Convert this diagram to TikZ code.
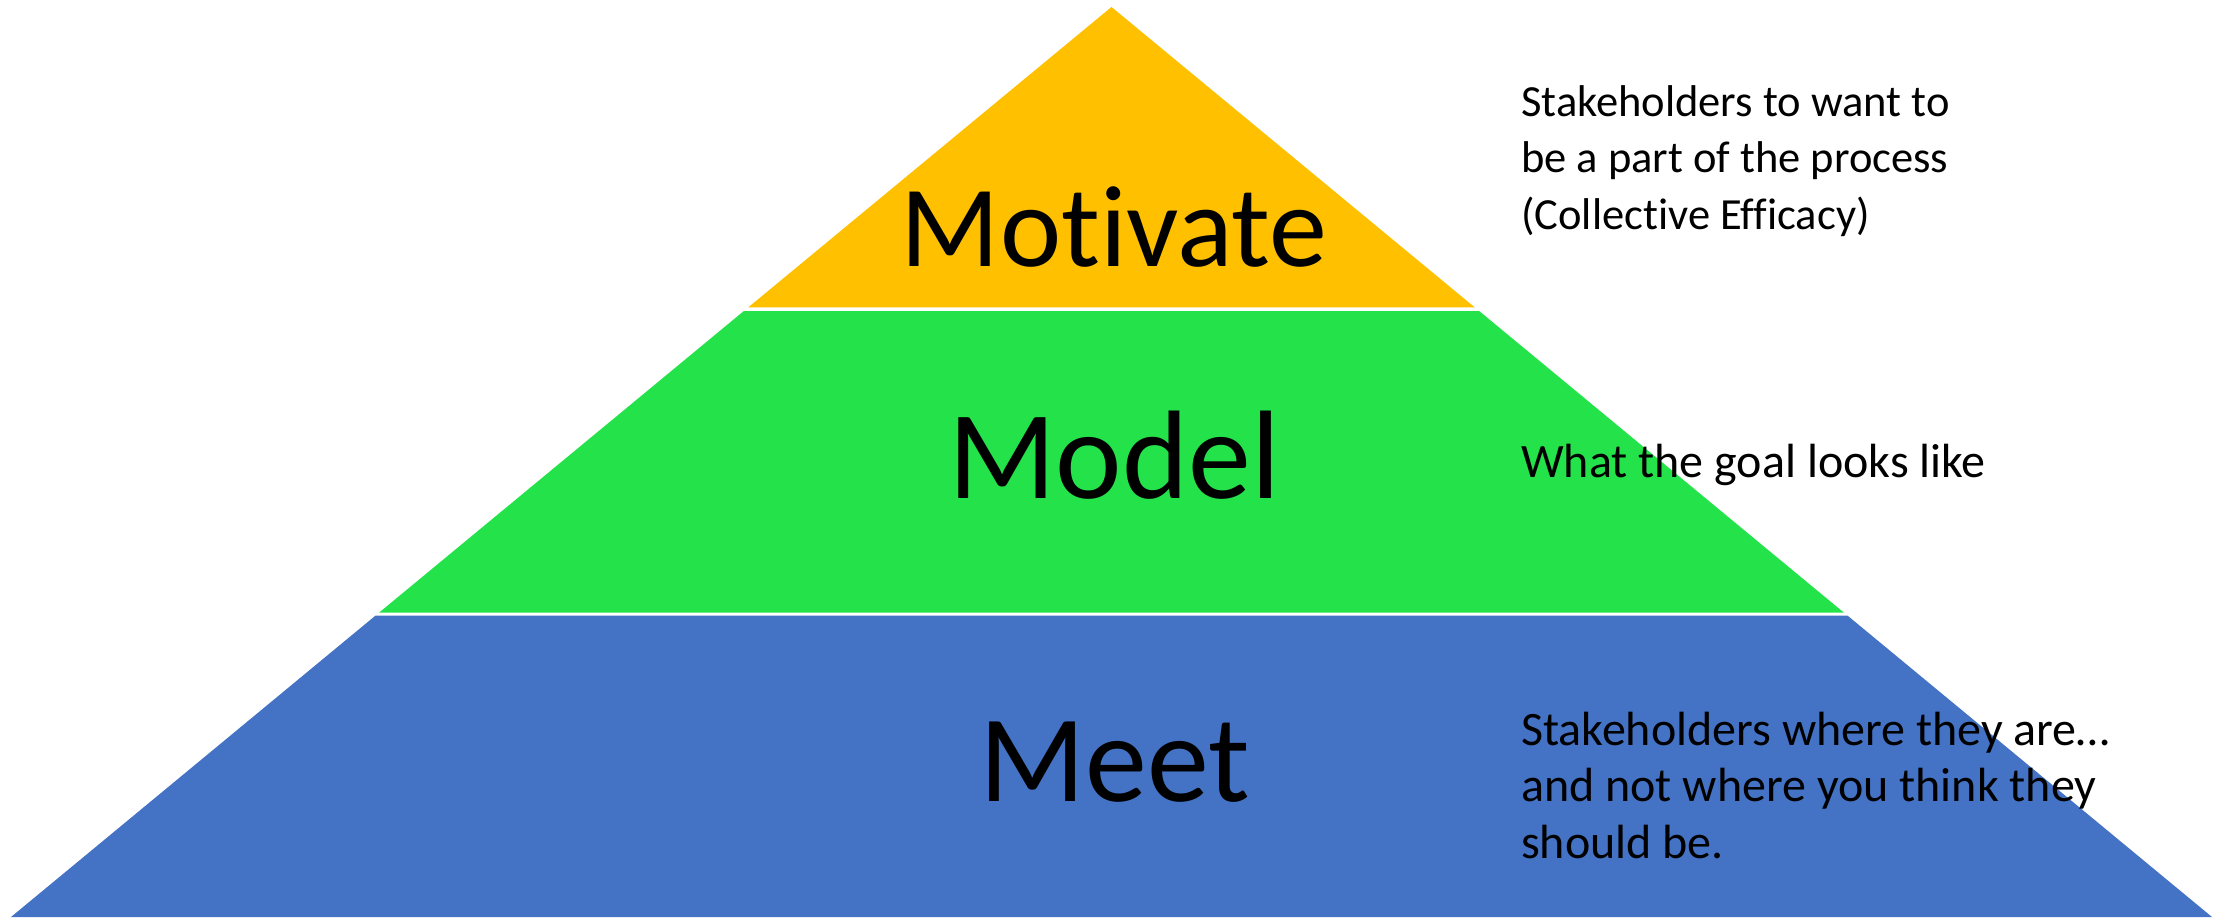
\documentclass[tikz,border=0pt]{standalone}
\usepackage{fontspec}
\setmainfont{Carlito}[Ligatures=NoCommon]
\usetikzlibrary{calc}
\definecolor{tierY}{RGB}{255,192,0}
\definecolor{tierG}{RGB}{36,226,74}
\definecolor{tierB}{RGB}{68,114,196}
\tikzset{
  bigword/.style={anchor=base, inner sep=0pt, text=black},
  sidetext/.style={anchor=base west, inner sep=0pt, text=black, font=\fontsize{44.5}{55}\selectfont},
  sidetextL/.style={anchor=base west, inner sep=0pt, text=black, font=\fontsize{48}{57}\selectfont},
}
\begin{document}
\begin{tikzpicture}[x=1pt,y=-1pt]
\useasboundingbox (0,0) rectangle (2221,921);
\coordinate (apex) at (1111.5,7);
\coordinate (bl) at (11,917);
\coordinate (br) at (2212,917);
% tiers
\fill[tierY] (apex) -- ($(apex)!0.3302!(br)$) -- ($(apex)!0.3302!(bl)$) -- cycle;
\fill[tierG] ($(apex)!0.3341!(bl)$) -- ($(apex)!0.3341!(br)$) -- ($(apex)!0.6654!(br)$) -- ($(apex)!0.6654!(bl)$) -- cycle;
\fill[tierB] ($(apex)!0.6687!(bl)$) -- ($(apex)!0.6687!(br)$) -- (br) -- (bl) -- cycle;
% big words
\node[bigword, font=\fontsize{116}{139}\selectfont] (motivate) at (1114,266.7) {Motivate};
\node[bigword, font=\fontsize{126}{151}\selectfont] (model) at (1114,498.3) {Model};
\node[bigword, font=\fontsize{124}{149}\selectfont] (meet) at (1115,801.7) {Meet};
% side texts
\node[sidetext] (t1a) at (1521,116) {Stakeholders to want to};
\node[sidetext] (t1b) at (1521,172.7) {be a part of the process};
\node[sidetext] (t1c) at (1521,229.5) {(Collective Efficacy)};
\node[sidetextL] (t2a) at (1521,477.3) {What the goal looks like};
\node[sidetextL] (t3a) at (1521,745) {Stakeholders where they are…};
\node[sidetextL] (t3b) at (1521,801.7) {and not where you think they};
\node[sidetextL] (t3c) at (1521,858.3) {should be.};
\end{tikzpicture}
\end{document}
